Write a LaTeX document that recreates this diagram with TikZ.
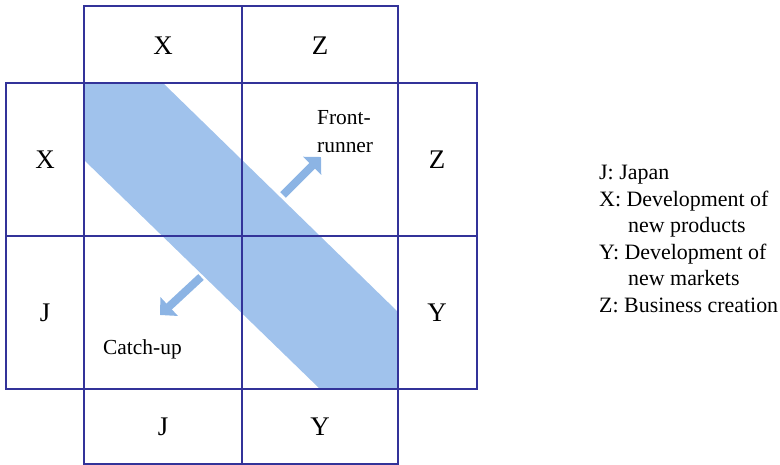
\documentclass[tikz,border=0pt]{standalone}
\usepackage{fontspec}
\setmainfont{Liberation Serif}
\usetikzlibrary{arrows.meta}
\definecolor{gridblue}{RGB}{51,51,153}
\definecolor{bandblue}{RGB}{160,194,236}
\definecolor{arrowblue}{RGB}{140,180,228}
\tikzset{
  gridline/.style={draw=gridblue, line width=2.8bp},
  bigletter/.style={font=\fontsize{27}{29}\selectfont, inner sep=0pt},
  label/.style={font=\fontsize{21.5}{28}\selectfont, inner sep=0pt, anchor=base west},
  legend/.style={font=\fontsize{22}{26}\selectfont, inner sep=0pt, anchor=base west},
  bigarrow/.style={draw=arrowblue, line width=8bp, -{Triangle[width=25bp,length=12.5bp]}}
}
\begin{document}
\begin{tikzpicture}[x=1bp,y=-1bp]
\useasboundingbox (0,0) rectangle (780,465);
% diagonal band
\fill[bandblue] (84,83) -- (163,83) -- (398,312) -- (398,389) -- (320,389) -- (84,160) -- cycle;
% grid
\draw[gridline] (84,6) rectangle (398,83);
\draw[gridline] (242,6) -- (242,83);
\draw[gridline] (6,83) rectangle (477,389);
\draw[gridline] (84,83) -- (84,389);
\draw[gridline] (242,83) -- (242,389);
\draw[gridline] (398,83) -- (398,389);
\draw[gridline] (6,236) -- (477,236);
\draw[gridline] (84,389) rectangle (398,464);
\draw[gridline] (242,389) -- (242,464);
% letters
\node[bigletter] (tx) at (163,46) {X};
\node[bigletter] (tz) at (320,46) {Z};
\node[bigletter] (lx) at (45,160) {X};
\node[bigletter] (lj) at (45,313) {J};
\node[bigletter] (rz) at (437,160) {Z};
\node[bigletter] (ry) at (437,313) {Y};
\node[bigletter] (bj) at (163,427) {J};
\node[bigletter] (by) at (320,427) {Y};
% labels
\node[label] (front1) at (317,125) {Front-};
\node[label] (front2) at (317,153) {runner};
\node[label] (catch) at (103,355) {Catch-up};
% arrows
\coordinate (fa) at (283,195);
\coordinate (fb) at (321,157);
\coordinate (ca) at (201,277);
\coordinate (cb) at (160,315);
\draw[bigarrow] (fa) -- (fb);
\draw[bigarrow] (ca) -- (cb);
% legend
\node[legend] (l1) at (599,180) {J: Japan};
\node[legend] (l2) at (599,206.5) {X: Development of};
\node[legend] (l3) at (628,233) {new products};
\node[legend] (l4) at (599,259.5) {Y: Development of};
\node[legend] (l5) at (628,286) {new markets};
\node[legend] (l6) at (599,312.5) {Z: Business creation};
\end{tikzpicture}
\end{document}
